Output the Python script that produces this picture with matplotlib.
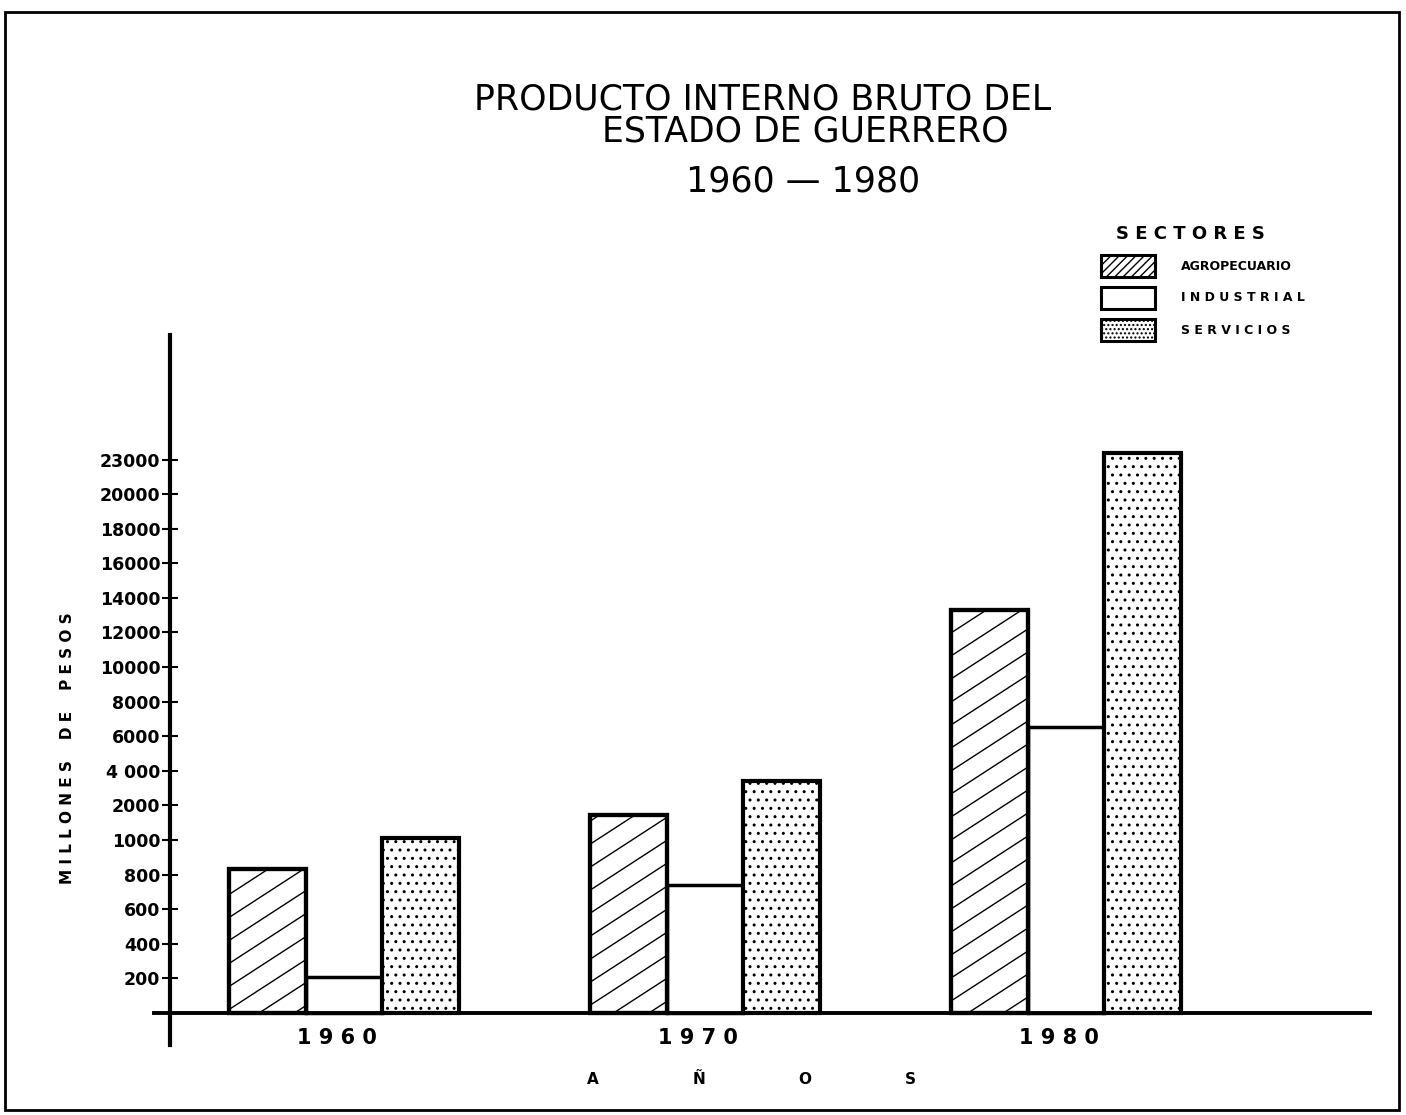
import numpy as np
import matplotlib
matplotlib.use("Agg")
import matplotlib.pyplot as plt
from matplotlib.patches import Rectangle
from matplotlib.collections import LineCollection

# data (millones de pesos)
years = ["1960", "1970", "1980"]
sectors = ["AGROPECUARIO", "INDUSTRIAL", "SERVICIOS"]
agropecuario = [830, 1730, 13300]
industrial = [210, 740, 6550]
servicios = [1050, 3400, 23600]

# the hand drawn axis: equal steps between these labels
tick_values = [0, 200, 400, 600, 800, 1000, 2000, 4000, 6000, 8000,
               10000, 12000, 14000, 16000, 18000, 20000, 23000]
tick_labels = ["200", "400", "600", "800", "1000", "2000", "4 000", "6000",
               "8000", "10000", "12000", "14000", "16000", "18000", "20000", "23000"]

W, H = 1406, 1115
tv = np.array(tick_values, float)
tp = np.arange(len(tv), dtype=float)


def fwd(v):
    v = np.asarray(v, float)
    p = np.interp(v, tv, tp)
    p = np.where(v > tv[-1], tp[-1] + (v - tv[-1]) / 3000., p)
    p = np.where(v < 0, v / 200., p)
    return p


def inv(p):
    p = np.asarray(p, float)
    v = np.interp(p, tp, tv)
    v = np.where(p > tp[-1], tv[-1] + (p - tp[-1]) * 3000., v)
    v = np.where(p < 0, p * 200., v)
    return v


def diag_hatch(ax, patch, spacing=0.0324, slope=1.097, lw=1.0):
    b = np.arange(-1.3, 1.05, spacing)
    segs = [[(0, y), (1, y + slope)] for y in b]
    lc = LineCollection(segs, colors="black", linewidths=lw, transform=ax.transAxes,
                        zorder=3.5)
    ax.add_collection(lc)
    lc.set_clip_path(patch)


fig = plt.figure(figsize=(W / 100, H / 100), dpi=100)
ax = fig.add_axes([170 / W, 1 - 1045 / H, 1200 / W, 710 / H])
ax.set_yscale("function", functions=(fwd, inv))

x = np.arange(len(years))
bw = 0.213
ag = ax.bar(x - bw, agropecuario, bw, color="white", edgecolor="black", linewidth=3, zorder=3)
ind = ax.bar(x, industrial, bw, color="white", edgecolor="black", linewidth=2.5, zorder=2)
sv = ax.bar(x + bw, servicios, bw, color="white", edgecolor="black", linewidth=3,
            hatch="..", zorder=3)
for r in ag:
    diag_hatch(ax, r)
# redraw the agro outlines over the hatch lines
ax.bar(x - bw, agropecuario, bw, fill=False, edgecolor="black", linewidth=3, zorder=4)

ax.set_xlim(-0.482, 2.842)
ax.set_ylim(-186, 33800)

ax.axhline(0, xmin=-0.013, xmax=1.0, color="black", lw=2.8, clip_on=False, zorder=5)

for s in ["top", "right", "bottom"]:
    ax.spines[s].set_visible(False)
ax.spines["left"].set_linewidth(3)
ax.set_xticks([])
ax.set_yticks(tick_values[1:])
ax.set_yticklabels(tick_labels, fontsize=12.5, fontweight="bold")
ax.tick_params(axis="y", direction="inout", length=12, width=1.5, pad=1)

for xi, yr in zip(x, years):
    ax.annotate(" ".join(yr), xy=(xi - 0.02, 0), xytext=(0, -11), textcoords="offset points",
                ha="center", va="top", fontsize=15, fontweight="bold")

# axis titles
fig.text(68 / W, 1 - 748 / H, "M I L L O N E S    D E    P E S O S", rotation=90,
         ha="center", va="center", fontsize=11, fontweight="bold")
for letter, xp in zip(["A", "Ñ", "O", "S"], np.linspace(593, 910, 4)):
    fig.text(xp / W, 1 - 1080 / H, letter, ha="center", va="center",
             fontsize=11, fontweight="bold")

# title
fig.text(763 / W, 1 - 100 / H, "PRODUCTO INTERNO BRUTO DEL", ha="center", va="center", fontsize=25)
fig.text(805 / W, 1 - 132 / H, "ESTADO DE GUERRERO", ha="center", va="center", fontsize=25)
fig.text(803 / W, 1 - 182 / H, "1960 — 1980", ha="center", va="center", fontsize=25)

# legend
fig.text(1190 / W, 1 - 234 / H, "S E C T O R E S", ha="center", va="center",
         fontsize=13, fontweight="bold")
leg_labels = ["AGROPECUARIO", "I N D U S T R I A L", "S E R V I C I O S"]
leg_hatch = ["////", None, "...."]
leg_y = [266, 298, 330]
for lab, h, yc in zip(leg_labels, leg_hatch, leg_y):
    fig.add_artist(Rectangle((1101 / W, 1 - (yc + 11) / H), 54 / W, 22 / H,
                             transform=fig.transFigure, facecolor="white",
                             edgecolor="black", linewidth=2.2, hatch=h))
    fig.text(1181 / W, 1 - yc / H, lab, ha="left", va="center", fontsize=9, fontweight="bold")

# page frame of the scan
fig.add_artist(Rectangle((5 / W, 5 / H), 1394 / W, 1098 / H, transform=fig.transFigure,
                         fill=False, edgecolor="black", linewidth=2))

fig.savefig("out.png", dpi=100)
